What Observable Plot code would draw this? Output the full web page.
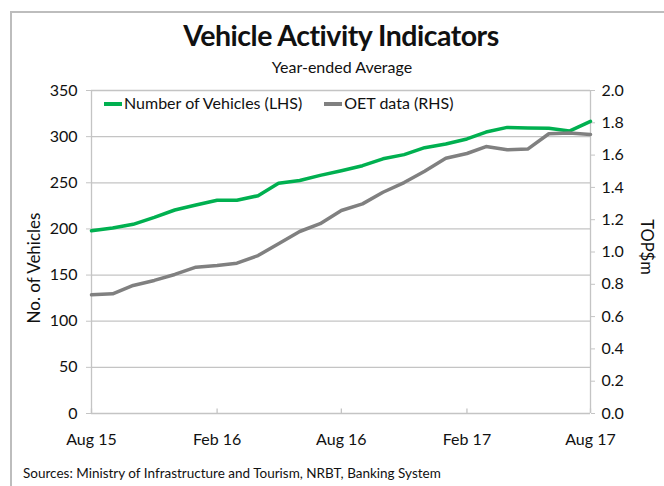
<!DOCTYPE html>
<html><head><meta charset="utf-8">
<script src="https://cdn.jsdelivr.net/npm/d3@7"></script>
<script src="https://cdn.jsdelivr.net/npm/@observablehq/plot@0.6"></script>
<style>
body{margin:0;background:#fff;}
#wrap{position:relative;width:664px;height:486px;overflow:hidden;font-family:Lato,"Open Sans",sans-serif;color:#111;}
#frame{position:absolute;left:10px;top:11px;width:800px;height:600px;border-top:2px solid #bdbdbd;border-left:2px solid #bdbdbd;}
#chart{position:absolute;left:0;top:0;}
.t{position:absolute;white-space:nowrap;}
#title{left:0;width:682px;text-align:center;top:18px;font-size:28.5px;font-weight:700;letter-spacing:-0.5px;}
#subtitle{left:0;width:684px;text-align:center;top:57px;font-size:16px;}
#caption{left:23px;top:465px;font-size:13.5px;}
#ylab{left:33px;top:268px;font-size:17px;transform:translate(-50%,-50%) rotate(-90deg);}
#y2lab{left:647px;top:247px;font-size:16.5px;transform:translate(-50%,-50%) rotate(90deg);}
#legend{left:104px;top:93px;font-size:16px;}
.sw{display:inline-block;width:18px;height:3.5px;vertical-align:middle;margin-right:2px;position:relative;top:-1px;}
</style>
</head><body>
<div id="wrap">
  <div id="frame"></div>
  <div id="chart"></div>
  <div class="t" id="title"></div>
  <div class="t" id="subtitle"></div>
  <div class="t" id="legend"></div>
  <div class="t" id="ylab"></div>
  <div class="t" id="y2lab"></div>
  <div class="t" id="caption"></div>
</div>
<script>
const titleText = "Vehicle Activity Indicators";
const subtitleText = "Year-ended Average";
const captionText = "Sources: Ministry of Infrastructure and Tourism, NRBT, Banking System";
const leftLabel = "No. of Vehicles";
const rightLabel = "TOP$m";
const seriesNames = ["Number of Vehicles (LHS)", "OET data (RHS)"];
const seriesColors = ["#00b050", "#808080"];

const months = ["2015-08","2015-09","2015-10","2015-11","2015-12","2016-01","2016-02","2016-03","2016-04","2016-05","2016-06","2016-07","2016-08","2016-09","2016-10","2016-11","2016-12","2017-01","2017-02","2017-03","2017-04","2017-05","2017-06","2017-07","2017-08"];
const vehicles = [198,201,205,212.5,220.5,226,231,231,236,249.5,252.5,258,263,268.5,276,280.5,288,292,297.5,305,310,309.5,309,306,316.5];
const oet = [0.735,0.741,0.793,0.824,0.861,0.906,0.916,0.931,0.978,1.051,1.127,1.175,1.257,1.298,1.37,1.43,1.50,1.58,1.61,1.653,1.633,1.637,1.732,1.737,1.728];

const xTickMonths = ["2015-08","2016-02","2016-08","2017-02","2017-08"];
const leftTicks = [0,50,100,150,200,250,300,350];
const rightTicks = [0,0.2,0.4,0.6,0.8,1.0,1.2,1.4,1.6,1.8,2.0];

const parse = d3.utcParse("%Y-%m");
const leftMax = 350, rightMax = 2.0, k = leftMax / rightMax;
const data = months.map((m, i) => ({date: parse(m), veh: vehicles[i], oet: oet[i]}));
const xTicks = xTickMonths.map(parse);

const chart = Plot.plot({
  width: 664, height: 486,
  marginTop: 90, marginBottom: 73, marginLeft: 91, marginRight: 74,
  x: {type: "utc", domain: [parse(months[0]), parse(months[months.length - 1])]},
  y: {domain: [0, leftMax]},
  style: {fontFamily: "Lato, 'Open Sans', sans-serif", fontSize: "16px", color: "#111", background: "transparent"},
  marks: [
    Plot.ruleY(leftTicks.slice(1), {stroke: "#c4c4c4", strokeWidth: 1.3}),
    Plot.ruleX([parse(months[0]), parse(months[months.length - 1])], {stroke: "#c4c4c4", strokeWidth: 1.3}),
    Plot.ruleY([0], {stroke: "#c4c4c4", strokeWidth: 1.3}),
    Plot.ruleX(xTicks, {y1: 0, y2: 5, stroke: "#c4c4c4", strokeWidth: 1.3}),
    Plot.axisY({anchor: "left", ticks: leftTicks, tickSize: 5, tickPadding: 9, label: null, stroke: "#c4c4c4", fill: "#111"}),
    Plot.axisY({anchor: "right", ticks: rightTicks.map(v => v * k), tickFormat: d => (d / k).toFixed(1), tickSize: 4, tickPadding: 7, label: null, stroke: "#c4c4c4", fill: "#111"}),
    Plot.axisX({ticks: xTicks, tickFormat: d3.utcFormat("%b %y"), tickSize: 0, tickPadding: 20, label: null, fill: "#111"}),
    Plot.line(data, {x: "date", y: "veh", stroke: seriesColors[0], strokeWidth: 3.5}),
    Plot.line(data, {x: "date", y: d => d.oet * k, stroke: seriesColors[1], strokeWidth: 3.5})
  ]
});
document.getElementById("chart").appendChild(chart);
document.getElementById("title").textContent = titleText;
document.getElementById("subtitle").textContent = subtitleText;
document.getElementById("caption").textContent = captionText;
document.getElementById("ylab").textContent = leftLabel;
document.getElementById("y2lab").textContent = rightLabel;
const lg = document.getElementById("legend");
seriesNames.forEach((n, i) => {
  const s = document.createElement("span");
  s.style.marginRight = "22px";
  s.innerHTML = `<span class="sw" style="background:${seriesColors[i]}"></span>`;
  s.appendChild(document.createTextNode(n));
  lg.appendChild(s);
});
</script>
</body></html>
